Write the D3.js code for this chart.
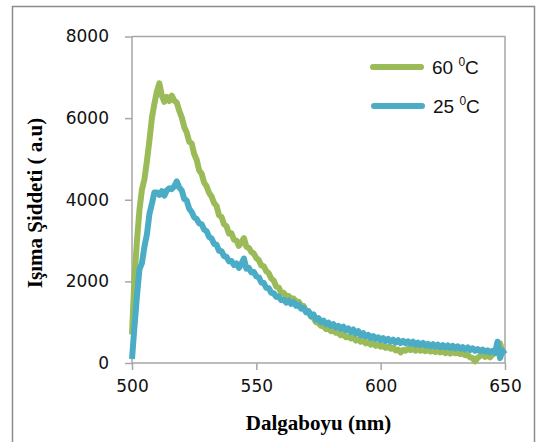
<!DOCTYPE html>
<html>
    <head>
        <meta charset="utf-8">
        <script src="https://d3js.org/d3.v7.min.js"></script>
        <style>
            body { margin: 0; background: #fff; }
        </style>
    </head>

    <body>
        <div id="target"></div>

        <script>
            // wavelength grid, 1 nm steps
            var wavelengths = d3.range(500, 651, 1);

            // 60 C
            var hot = [
                700, 2100, 3000, 3750, 4250, 4500, 4950, 5450, 6000, 6350,
                6650, 6850, 6550, 6400, 6520, 6420, 6550, 6430, 6380, 6180,
                6020, 5780, 5650, 5420, 5380, 5120, 4980, 4720, 4640, 4420,
                4330, 4170, 4080, 3920, 3850, 3620, 3580, 3400, 3350, 3170,
                3180, 3020, 3000, 2870, 2960, 3060, 2850, 2820, 2720, 2680,
                2570, 2520, 2390, 2370, 2250, 2200, 2070, 2020, 1870, 1850,
                1720, 1720, 1640, 1640, 1580, 1580, 1500, 1500, 1410, 1400,
                1280, 1250, 1140, 1110, 1000, 980, 910, 900, 830, 840,
                780, 800, 740, 740, 680, 710, 630, 650, 600, 630,
                550, 580, 520, 560, 480, 510, 450, 490, 420, 450,
                400, 420, 370, 400, 350, 380, 310, 330, 260, 320,
                300, 350, 320, 350, 300, 340, 300, 330, 290, 320,
                280, 310, 270, 300, 260, 290, 240, 280, 230, 270,
                240, 250, 220, 230, 190, 200, 140, 120, 40, 130,
                170, 210, 150, 180, 140, 210, 240, 380, 480, 280,
                250
            ];

            // 25 C
            var room = [
                100, 900, 1650, 2300, 2450, 2850, 3150, 3650, 3900, 4180,
                4180, 4120, 4210, 4100, 4230, 4280, 4260, 4330, 4450, 4300,
                4230, 4020, 3980, 3780, 3700, 3570, 3530, 3420, 3400, 3270,
                3230, 3090, 3050, 2920, 2900, 2750, 2740, 2620, 2600, 2490,
                2500, 2400, 2440, 2330, 2430, 2560, 2310, 2330, 2220, 2230,
                2120, 2100, 1970, 1960, 1840, 1830, 1720, 1710, 1620, 1630,
                1540, 1550, 1480, 1530, 1450, 1490, 1400, 1430, 1330, 1350,
                1240, 1270, 1150, 1190, 1060, 1100, 1000, 1040, 950, 990,
                910, 950, 870, 910, 840, 890, 800, 850, 760, 820,
                720, 780, 680, 730, 650, 690, 610, 660, 590, 630,
                560, 610, 540, 590, 520, 570, 500, 560, 490, 540,
                480, 530, 470, 520, 450, 500, 440, 490, 430, 470,
                410, 460, 400, 450, 390, 440, 380, 430, 370, 420,
                360, 410, 350, 390, 330, 380, 320, 360, 300, 340,
                290, 330, 280, 310, 260, 300, 250, 520, 120, 300,
                220
            ];

            var xTicks = [500, 550, 600, 650];
            var yTicks = [0, 2000, 4000, 6000, 8000];
            var seriesNames = ['60', '25'];
            var seriesColors = ['#9bbb59', '#4bacc6'];

            (function draw(){
                var W = 536, H = 442;
                var pL = 132, pR = 505, pT = 36.5, pB = 363;

                var svg = d3.select('#target')
                            .append('svg')
                            .attr('width', W)
                            .attr('height', H);

                // outer chart frame
                svg.append('rect')
                    .attr('x', 12.5).attr('y', 6.5)
                    .attr('width', 522).attr('height', 450)
                    .attr('fill', 'none')
                    .attr('stroke', '#8c8c8c')
                    .attr('stroke-width', 1.5);

                var x = d3.scaleLinear().domain([500, 650]).range([pL, pR]);
                var y = d3.scaleLinear().domain([0, 8000]).range([pB, pT]);

                // plot area border (top + right)
                svg.append('path')
                    .attr('d', 'M' + x(500) + ',' + y(8000) + 'H' + x(650) + 'V' + y(0))
                    .attr('fill', 'none')
                    .attr('stroke', '#a6a6a6')
                    .attr('stroke-width', 1.5);

                var yAxis = svg.append('g')
                    .attr('transform', 'translate(' + pL + ',0)')
                    .call(d3.axisLeft(y).tickValues(yTicks).tickSize(7).tickPadding(16).tickFormat(d3.format('d')));

                var xAxis = svg.append('g')
                    .attr('transform', 'translate(0,' + pB + ')')
                    .call(d3.axisBottom(x).tickValues(xTicks).tickSize(7).tickPadding(10).tickFormat(d3.format('d')));

                [xAxis, yAxis].forEach(function(a){
                    a.select('.domain').attr('stroke', '#a6a6a6').attr('stroke-width', 1.5);
                    a.selectAll('.tick line').attr('stroke', '#a6a6a6').attr('stroke-width', 1.5);
                    a.selectAll('.tick text')
                        .attr('fill', '#111')
                        .style('font-family', 'DejaVu Sans, Verdana, sans-serif')
                        .style('font-size', '17px');
                });
                xAxis.select('.domain').attr('d', 'M' + pL + ',0H' + pR);
                yAxis.select('.domain').attr('d', 'M0,' + pT + 'V' + pB);

                var line = d3.line()
                    .x(function(d){ return x(d[0]); })
                    .y(function(d){ return y(d[1]); });

                [hot, room].forEach(function(vals, i){
                    var pts = wavelengths.map(function(w, j){ return [w, vals[j]]; });
                    svg.append('path')
                        .datum(pts)
                        .attr('d', line)
                        .attr('fill', 'none')
                        .attr('stroke', seriesColors[i])
                        .attr('stroke-width', 6)
                        .attr('stroke-linejoin', 'round');
                });

                // legend
                var legend = svg.append('g');
                var legY = [67, 106];
                seriesNames.forEach(function(name, i){
                    legend.append('line')
                        .attr('x1', 373 + i).attr('x2', 421 + i)
                        .attr('y1', legY[i]).attr('y2', legY[i])
                        .attr('stroke', seriesColors[i])
                        .attr('stroke-width', 6)
                        .attr('stroke-linecap', 'round');
                    var t = legend.append('text')
                        .attr('x', 432 + i)
                        .attr('y', legY[i] + 7)
                        .attr('fill', '#111')
                        .style('font-family', 'Liberation Sans, Arial, sans-serif')
                        .style('font-size', '19px');
                    t.append('tspan').text(name + ' ');
                    t.append('tspan').text('0').attr('dy', -8).style('font-size', '12px');
                    t.append('tspan').text('C').attr('dy', 8);
                });

                // axis titles
                svg.append('text')
                    .attr('x', (pL + pR) / 2)
                    .attr('y', 430)
                    .attr('text-anchor', 'middle')
                    .style('font-family', 'Liberation Serif, Times New Roman, serif')
                    .style('font-weight', 'bold')
                    .style('font-size', '21px')
                    .text('Dalgaboyu (nm)');

                svg.append('text')
                    .attr('transform', 'translate(42,203)rotate(-90)')
                    .attr('text-anchor', 'middle')
                    .style('font-family', 'Liberation Serif, Times New Roman, serif')
                    .style('font-weight', 'bold')
                    .style('font-size', '21px')
                    .text('Işıma Şiddeti ( a.u)');
            })();
        </script>
    </body>
</html>
